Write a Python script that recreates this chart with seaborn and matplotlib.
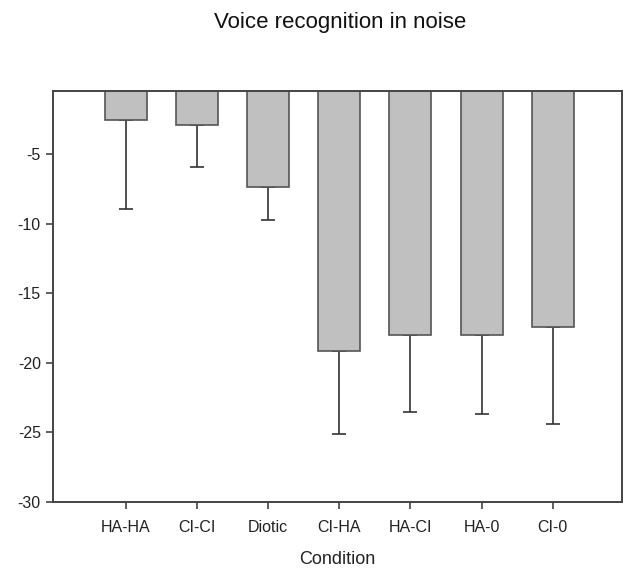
import matplotlib
matplotlib.use("Agg")
import matplotlib.pyplot as plt
import seaborn as sns
import pandas as pd
import numpy as np

conditions = ["HA-HA", "CI-CI", "Diotic", "CI-HA", "HA-CI", "HA-0", "CI-0"]
means = [-2.58, -2.89, -7.37, -19.17, -18.02, -18.02, -17.45]
errors = [6.39, 3.04, 2.34, 5.99, 5.51, 5.70, 6.95]
ytick_values = [-5, -10, -15, -20, -25, -30]
ytick_labels = ["-5", "-10", "-15", "-20", "-25", "-30"]
title = "Voice recognition in noise"
xlabel = "Condition"

sns.set_style("white")
plt.rcParams["font.family"] = ["Liberation Sans", "DejaVu Sans"]

df = pd.DataFrame({"Condition": conditions, "Score": means})

fig = plt.figure(figsize=(6.29, 5.68), dpi=100)
ax = fig.add_axes([0.0847, 0.1167, 0.9884 - 0.0847, 0.8403 - 0.1167])

sns.barplot(data=df, x="Condition", y="Score", order=conditions, color="#c0c0c0",
            saturation=1, width=0.59, errorbar=None, edgecolor="#555555",
            linewidth=1.2, ax=ax, zorder=2)

pos = np.arange(len(conditions))
ax.errorbar(pos, means, yerr=[errors, [0] * len(errors)], fmt="none",
            ecolor="#333333", elinewidth=1.2, capsize=4.7, capthick=1.2, zorder=1)

ax.set_xlim(-1.02, 6.97)
ax.set_ylim(-30, -0.45)
ax.set_yticks(ytick_values)
ax.set_yticklabels(ytick_labels)

for sp in ax.spines.values():
    sp.set_visible(True)
    sp.set_color("#444444")
    sp.set_linewidth(1.4)

ax.tick_params(axis="both", direction="out", length=5, width=1.2, color="#444444",
               labelsize=11.5, labelcolor="#222222", pad=4)
ax.tick_params(axis="x", pad=8)
ax.tick_params(axis="both", bottom=True, left=True)

ax.set_xlabel(xlabel, fontsize=13, color="#222222", labelpad=12)
ax.set_ylabel("")

fig.text(0.54, 0.961, title, ha="center", va="center", fontsize=16, color="#111111")

fig.savefig("out.png", dpi=100)
